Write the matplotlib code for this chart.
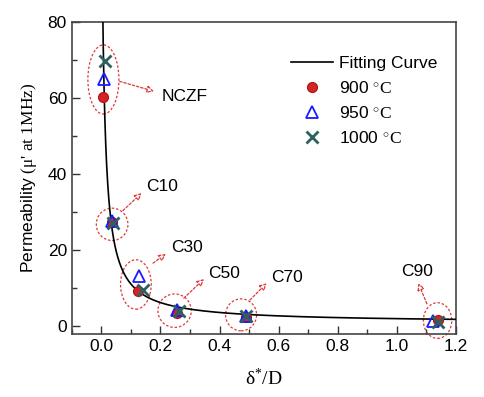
import numpy as np
import matplotlib
matplotlib.use("Agg")
import matplotlib.pyplot as plt
from matplotlib.patches import Ellipse, FancyArrowPatch
from matplotlib.ticker import MultipleLocator

plt.rcParams['font.family'] = ['Liberation Sans', 'DejaVu Sans']
plt.rcParams['mathtext.fontset'] = 'custom'
plt.rcParams['mathtext.rm'] = 'Liberation Serif'
plt.rcParams['mathtext.it'] = 'Liberation Serif:italic'
plt.rcParams['mathtext.sf'] = 'Liberation Sans'

# ---- data ----
samples = ["NCZF", "C10", "C30", "C50", "C70", "C90"]
x_900 = [0.007, 0.037, 0.124, 0.256, 0.488, 1.139]
y_900 = [60.2, 27.2, 9.2, 3.3, 2.4, 1.6]
x_950 = [0.009, 0.037, 0.126, 0.256, 0.488, 1.122]
y_950 = [64.9, 27.6, 13.2, 4.2, 2.7, 1.4]
x_1000 = [0.0136, 0.039, 0.141, 0.262, 0.490, 1.139]
y_1000 = [69.7, 27.0, 9.5, 3.8, 2.5, 1.1]

# fitting curve: mu = A / (x + C) + B
fit_A = 1.113
fit_C = 0.0088
fit_B = 0.8

# ---- annotation layout ----
ell_center = [(0.007, 64.8), (0.0366, 26.7), (0.117, 10.9), (0.248, 4.0), (0.473, 2.9), (1.138, 1.4)]
ell_size = [(0.105, 18.2), (0.107, 8.5), (0.104, 13.0), (0.113, 8.8), (0.105, 8.4), (0.096, 9.4)]
arrow_start = [(0.062, 64.3), (0.0732, 30.3), (0.175, 16.5), (0.279, 7.3), (0.503, 6.8), (1.102, 5.8)]
arrow_end = [(0.178, 61.7), (0.1356, 34.9), (0.218, 18.9), (0.347, 12.3), (0.559, 11.2), (1.073, 11.2)]
label_pos = [(0.204, 60.3), (0.150, 36.7), (0.235, 20.7), (0.361, 13.9), (0.573, 12.6), (1.014, 14.3)]

fig = plt.figure(figsize=(4.85, 3.97), dpi=100)
ax = fig.add_axes([0.148, 0.159, 0.792, 0.7864])

xf = np.linspace(0.003, 1.2, 2000)
ax.plot(xf, fit_A / (xf + fit_C) + fit_B, color='black', lw=1.2, label='Fitting Curve', zorder=3)

ax.plot(x_900, y_900, 'o', ms=7.2, mfc='#d42424', mec='#b01010', mew=0.8,
        label=r'900 $^{\circ}\mathrm{C}$', zorder=4)
ax.plot(x_950, y_950, '^', ms=8.5, mfc='none', mec='#1a1aff', mew=1.3,
        label=r'950 $^{\circ}\mathrm{C}$', zorder=5)
ax.plot(x_1000, y_1000, 'x', ms=9, mec='#2f6060', mew=2.0,
        label=r'1000 $^{\circ}\mathrm{C}$', zorder=6)

red = '#e03a3a'
for (cx, cy), (w, h), s, e, lp, name in zip(ell_center, ell_size, arrow_start, arrow_end, label_pos, samples):
    ax.add_patch(Ellipse((cx, cy), w, h, fill=False, ec=red, ls=(0, (2, 1.5)), lw=0.9,
                         clip_on=False, zorder=2))
    ax.add_patch(FancyArrowPatch(s, e, arrowstyle='-|>,head_length=4,head_width=2.2',
                                 mutation_scale=1, color=red, fc='white', ls=(0, (2, 1.5)),
                                 lw=0.9, clip_on=False, zorder=2,
                                 shrinkA=0, shrinkB=0))
    ax.text(lp[0], lp[1], name, fontsize=12.5, ha='left', va='center')

ax.set_xlim(-0.1, 1.2)
ax.set_ylim(-2.1, 80)
ax.xaxis.set_major_locator(MultipleLocator(0.2))
ax.xaxis.set_minor_locator(MultipleLocator(0.1))
ax.yaxis.set_major_locator(MultipleLocator(20))
ax.yaxis.set_minor_locator(MultipleLocator(10))
ax.xaxis.set_major_formatter(matplotlib.ticker.FormatStrFormatter('%.1f'))
ax.tick_params(which='both', direction='in', top=False, right=False, labelsize=12.5, color='#333333')
ax.tick_params(which='major', length=6, width=1)
ax.tick_params(which='minor', length=3.5, width=1)
for sp in ax.spines.values():
    sp.set_color('#444444')
    sp.set_linewidth(1.2)

ax.set_xlabel(r'$\mathrm{\delta^{*}/D}$', fontsize=14, labelpad=10)
ax.set_ylabel(r"$\mathsf{Permeability}\ \mathrm{(\mu\text{'}\ at\ 1MHz)}$", fontsize=12.5, labelpad=6)

ax.legend(loc='upper left', bbox_to_anchor=(0.601, 0.859), bbox_transform=fig.transFigure,
          frameon=False, fontsize=12.5, borderpad=0, handlelength=2.4, handletextpad=0.35,
          labelspacing=0.52, borderaxespad=0)

fig.savefig('out.png', dpi=100, facecolor='white')
